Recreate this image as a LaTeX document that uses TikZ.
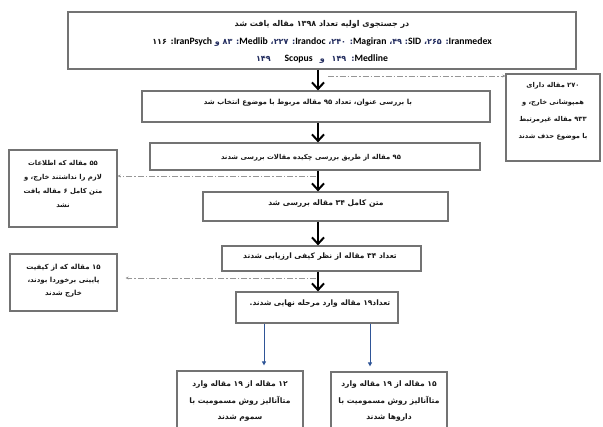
\documentclass[tikz,border=0pt]{standalone}
\usepackage{fontspec}
\newfontfamily\arabicfont[Script=Arabic]{DejaVu Sans}
\newfontfamily\latfont{Carlito}
\TeXXeTstate=1
\usetikzlibrary{arrows.meta}
\newcommand\fa[1]{\beginR #1\endR}
\newcommand\lat[1]{{\latfont\bfseries\fontsize{9.7pt}{12pt}\selectfont\color{latblue}#1}}
\newcommand\fsz[2]{\arabicfont\bfseries\fontsize{#1pt}{#2pt}\selectfont}
\definecolor{boxgray}{RGB}{115,115,115}
\definecolor{dashgray}{RGB}{150,150,150}
\definecolor{arrblue}{RGB}{47,85,151}
\definecolor{latblue}{RGB}{35,45,95}
\begin{document}
\begin{tikzpicture}[x=1pt,y=-1pt,
  box/.style={draw=boxgray, line width=1.2pt, inner sep=0pt, fill=white},
  txt/.style={inner sep=0pt, align=center, text={rgb,255:red,25;green,25;blue,25}},
  bigarr/.style={line width=2pt, -{Straight Barb[length=6.5pt,width=12pt,line width=2pt]}},
  dd/.style={draw=dashgray, line width=0.8pt, dash pattern=on 6pt off 2pt on 1.5pt off 2pt, -{Stealth[length=3pt,width=3pt]}},
  blu/.style={draw=arrblue, line width=0.9pt, -{Triangle[length=4pt,width=4pt]}}]
\clip (0,0) rectangle (603,427);
\useasboundingbox (0,0) rectangle (603,427);
\fill[white] (0,0) rectangle (603,427);

% boxes
\node[box, minimum width=508pt, minimum height=57pt] (top) at (322,40.5) {};
\node[box, minimum width=348pt, minimum height=31pt] (b2) at (316,106.5) {};
\node[box, minimum width=94pt, minimum height=87pt] (rbox) at (553,117.5) {};
\node[box, minimum width=330pt, minimum height=27pt] (b3) at (315,156.5) {};
\node[box, minimum width=108pt, minimum height=77pt] (lb1) at (63,188.5) {};
\node[box, minimum width=245pt, minimum height=29pt] (b4) at (325.5,206.5) {};
\node[box, minimum width=199pt, minimum height=25pt] (b5) at (321.5,258.5) {};
\node[box, minimum width=107pt, minimum height=57pt] (lb2) at (63.5,282.5) {};
\node[box, minimum width=162pt, minimum height=31pt] (b6) at (317,307.5) {};
\node[box, minimum width=126pt, minimum height=62pt] (bl) at (240,402) {};
\node[box, minimum width=116pt, minimum height=61pt] (br) at (389,402.5) {};

% texts
\node[txt, font=\fsz{8}{17.5}] (topt) at (322,42) {%
\fa{در جستجوی اولیه تعداد ۱۳۹۸ مقاله یافت شد}\\
\fa{\lat{Iranmedex}: ۲۶۵\kern0pt، \lat{SID}: ۴۹\kern0pt، \lat{Magiran}: ۲۴۰\kern0pt، \lat{Irandoc}: ۲۲۷\kern0pt، \lat{Medlib}: ۸۳ و \lat{IranPsych}: ۱۱۶}\\
\fa{\lat{Medline}:\hspace{5pt}۱۴۹\hspace{7pt}و\hspace{7pt}\lat{Scopus}\hspace{14pt}۱۴۹}};
\node[txt, font=\fsz{7}{17}] (b2t) at (308,103) {\fa{با بررسی عنوان، تعداد ۹۵ مقاله مربوط با موضوع انتخاب شد}};
\node[txt, font=\fsz{6.7}{17}] (rboxt) at (553,111.5) {%
\fa{۲۷۰ مقاله دارای}\\
\fa{همپوشانی خارج، و}\\
\fa{۹۳۳ مقاله غیرمرتبط}\\
\fa{با موضوع حذف شدند}};
\node[txt, font=\fsz{6.8}{17}] (b3t) at (311,158) {\fa{۹۵ مقاله از طریق بررسی چکیده مقالات بررسی شدند}};
\node[txt, font=\fsz{6.8}{14}] (lb1t) at (63,184) {%
\fa{۵۵ مقاله که اطلاعات}\\
\fa{لازم را نداشتند خارج، و}\\
\fa{متن کامل ۶ مقاله یافت}\\
\fa{نشد}};
\node[txt, font=\fsz{7.6}{17}] (b4t) at (326,204) {\fa{متن کامل ۳۴ مقاله بررسی شد}};
\node[txt, font=\fsz{7.5}{17}] (b5t) at (320,257) {\fa{تعداد ۳۴ مقاله از نظر کیفی ارزیابی شدند}};
\node[txt, font=\fsz{7}{13}] (lb2t) at (63.5,280.5) {%
\fa{۱۵ مقاله که از کیفیت}\\
\fa{پایینی برخوردا بودند،}\\
\fa{خارج شدند}};
\node[txt, font=\fsz{7.5}{17}] (b6t) at (320,304) {\fa{تعداد۱۹ مقاله وارد مرحله نهایی شدند.}};
\node[txt, font=\fsz{7.6}{16.5}] (blt) at (240,401.5) {%
\fa{۱۲ مقاله از ۱۹ مقاله وارد}\\
\fa{متاآنالیز روش مسمومیت با}\\
\fa{سموم شدند}};
\node[txt, font=\fsz{7.6}{16.5}] (brt) at (389,401.5) {%
\fa{۱۵ مقاله از ۱۹ مقاله وارد}\\
\fa{متاآنالیز روش مسمومیت با}\\
\fa{داروها شدند}};

% main flow arrows
\coordinate (ax) at (318,0);
\draw[bigarr] (top.south -| ax) -- (b2.north -| ax);
\draw[bigarr] (b2.south -| ax) -- (b3.north -| ax);
\draw[bigarr] (b3.south -| ax) -- (b4.north -| ax);
\draw[bigarr] (b4.south -| ax) -- (b5.north -| ax);
\draw[bigarr] (b5.south -| ax) -- (b6.north -| ax);

% exclusion connectors
\coordinate (d1) at (328,76);
\coordinate (d2) at (316,176);
\coordinate (d3) at (316,278);
\draw[dd] (d1) -- (d1 -| rbox.west);
\draw[dd] (d2) -- (d2 -| lb1.east);
\draw[dd, shorten >=8pt] (d3) -- (d3 -| lb2.east);

% final split
\coordinate (bx1) at (264,0);
\coordinate (bx2) at (370,0);
\draw[blu, shorten >=5pt] (b6.south -| bx1) -- (bl.north -| bx1);
\draw[blu, shorten >=5pt] (b6.south -| bx2) -- (br.north -| bx2);
\end{tikzpicture}
\end{document}
